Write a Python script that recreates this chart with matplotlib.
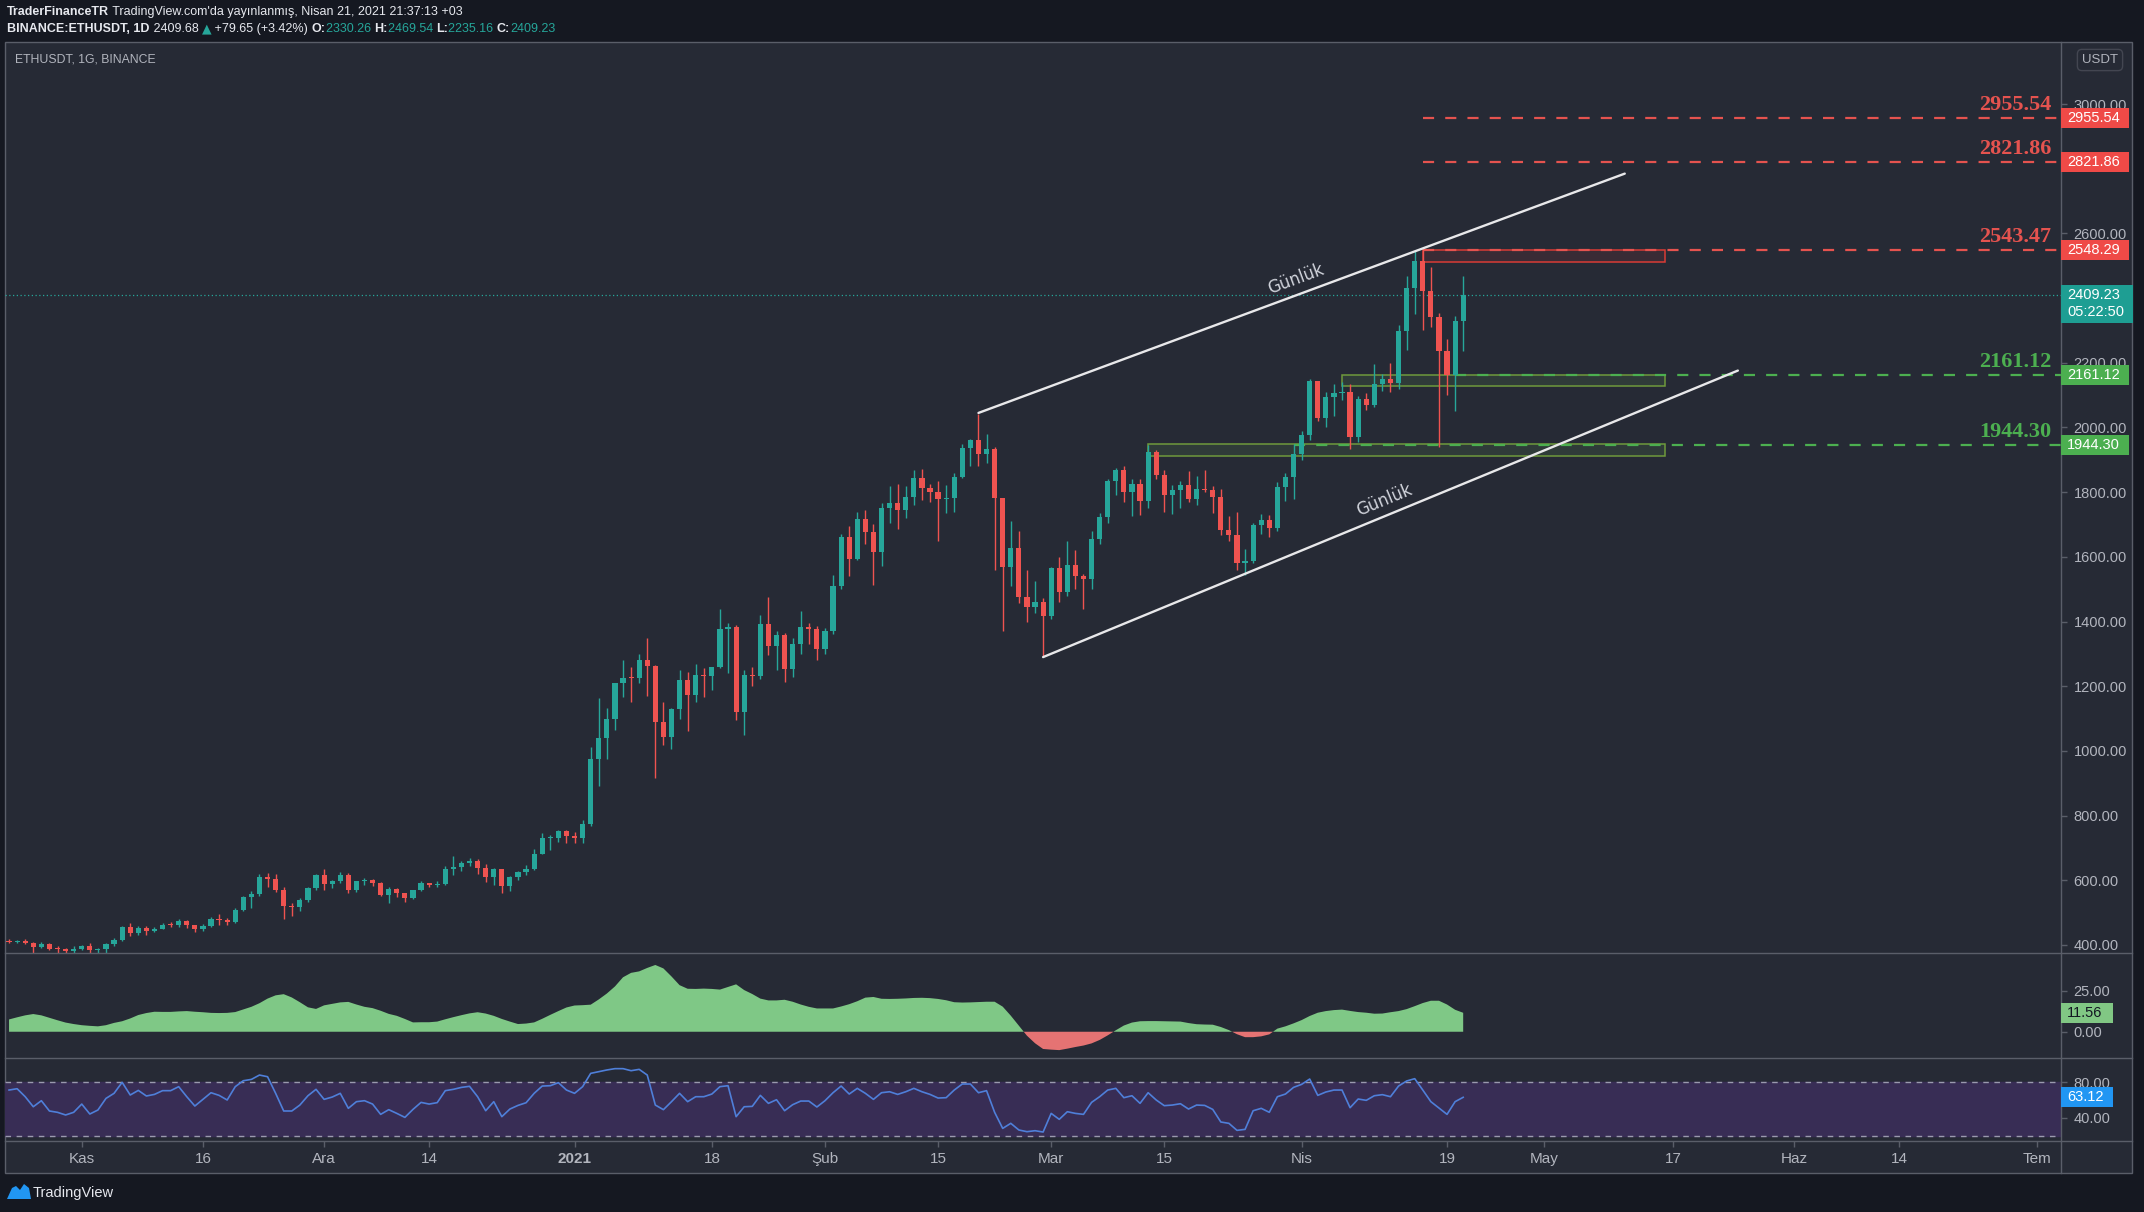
import numpy as np
import pandas as pd
import matplotlib
matplotlib.use("Agg")
import matplotlib.pyplot as plt
import matplotlib.dates as mdates
import matplotlib.transforms as mtransforms
from matplotlib.patches import Rectangle, Polygon
from matplotlib.lines import Line2D
from matplotlib import font_manager as fm

# ------------------------------------------------------------------ data
start_date = "2020-10-23"
end_date = "2021-04-21"

opens = [
    412.9, 409.5, 411.2, 406.4, 393.5, 403.6, 388.2, 386.3, 382.6,
    386.6, 396.6, 383.2, 387.6, 402.1, 414.1, 454.7, 435.4, 453.7, 444.2, 449.7, 462.8, 461.8, 475.4, 461.3,
    447.8, 460.0, 481.1, 478.3, 471.3, 509.1, 549.4, 558.8, 608.6, 603.2, 570.2, 518.8, 517.5, 538.2, 575.8,
    614.8, 587.3, 598.4, 616.7, 569.4, 596.3, 601.0, 591.6, 554.6, 573.6, 559.8, 545.6, 568.7, 590.6, 586.8,
    589.0, 636.2, 642.0, 654.0, 659.0, 638.0, 609.0, 634.5, 583.0, 611.0, 626.0, 635.0, 682.0, 731.0, 732.0, 751.6,
    737.0, 730.0, 774.6, 975.5, 1040.2, 1100.0, 1208.4, 1225.7, 1224.9, 1281.4, 1262.2, 1090.1, 1043.4, 1130.2,
    1218.9, 1171.5, 1233.5, 1230.2, 1257.9, 1377.0, 1382.0, 1121.0, 1236.0, 1231.0, 1392.0, 1324.0, 1357.0,
    1253.0, 1331.0, 1382.0, 1378.0,
    1314.0, 1370.0, 1511.0, 1660.0, 1594.0, 1718.0, 1677.0, 1614.0, 1750.0, 1768.0, 1744.0, 1784.0, 1843.0,
    1814.0, 1800.0, 1779.0, 1781.0, 1848.0, 1937.0, 1960.0, 1919.0, 1935.0, 1781.0, 1570.0, 1626.0, 1475.0,
    1446.0, 1459.0,
    1417.0, 1564.0, 1492.0, 1575.0, 1541.0, 1533.0, 1655.0, 1724.0, 1834.0, 1868.0, 1799.0, 1826.0, 1772.0,
    1924.0, 1854.0, 1791.0, 1806.0, 1823.0, 1780.0, 1810.0, 1807.0, 1786.0, 1682.0, 1669.0, 1581.0, 1587.0,
    1700.0, 1715.0, 1690.0, 1817.0, 1846.0,
    1919.0, 1977.0, 2143.0, 2028.0, 2093.0, 2107.0, 2111.0, 1971.0, 2088.0, 2071.0, 2133.0, 2151.0, 2139.0,
    2299.0, 2432.0, 2514.0, 2423.0, 2342.0, 2237.0, 2162.0, 2330.26,
]
highs = [
    419.4, 414.9, 419.0, 408.5, 409.5, 406.2, 395.8, 389.0, 396.0,
    399.0, 405.0, 391.0, 407.0, 420.0, 459.0, 467.0, 457.0, 460.0, 456.0, 468.0, 472.0, 480.0, 476.0, 463.0,
    464.0, 485.0, 496.0, 483.0, 513.0, 552.0, 568.0, 618.0, 622.0, 618.0, 580.0, 531.0, 545.0, 579.0, 619.0,
    634.0, 600.0, 624.0, 621.0, 599.0, 606.0, 604.0, 595.0, 579.0, 575.0, 560.0, 570.0, 597.0, 592.0, 597.0,
    643.0, 676.0, 659.0, 668.0, 667.0, 649.0, 638.0, 636.0, 614.0, 630.0, 646.0, 697.0, 745.0, 739.0, 754.0, 754.0,
    749.0, 787.0, 1011.0, 1162.0, 1134.0, 1211.0, 1282.0, 1260.0, 1300.0, 1348.0, 1265.0, 1150.0, 1133.0, 1250.0,
    1245.0, 1270.0, 1256.0, 1260.0, 1438.0, 1395.0, 1389.0, 1250.0, 1260.0, 1420.0, 1476.0, 1370.0, 1365.0,
    1350.0, 1432.0, 1394.0, 1386.0,
    1380.0, 1545.0, 1670.0, 1695.0, 1740.0, 1744.0, 1703.0, 1765.0, 1820.0, 1826.0, 1820.0, 1870.0, 1871.0,
    1825.0, 1836.0, 1823.0, 1860.0, 1950.0, 1965.0, 2041.4, 1980.0, 1939.0, 1781.0, 1712.0, 1680.0, 1558.0,
    1525.0, 1472.0,
    1570.0, 1599.0, 1650.0, 1622.0, 1548.0, 1680.0, 1735.0, 1840.0, 1875.0, 1880.0, 1840.0, 1840.0, 1947.0,
    1930.0, 1870.0, 1822.0, 1835.0, 1865.0, 1850.0, 1868.0, 1818.0, 1810.0, 1725.0, 1740.0, 1625.0, 1705.0,
    1734.0, 1728.0, 1830.0, 1860.0, 1950.0,
    1990.0, 2150.0, 2145.0, 2110.0, 2135.0, 2140.0, 2136.0, 2096.0, 2108.0, 2196.0, 2165.0, 2200.0, 2318.0,
    2468.0, 2545.0, 2548.3, 2497.0, 2355.0, 2275.0, 2345.0, 2469.54,
]
lows = [
    404.9, 407.3, 403.0, 376.0, 391.3, 383.0, 373.0, 371.2, 376.4,
    383.8, 374.0, 371.5, 376.0, 398.0, 413.0, 427.0, 430.0, 431.0, 440.0, 448.0, 454.5, 456.0, 451.0, 441.0,
    442.0, 456.0, 462.0, 463.0, 469.0, 505.0, 515.0, 551.0, 579.0, 563.0, 480.0, 490.0, 505.0, 534.0, 571.0,
    570.0, 576.0, 590.0, 560.0, 565.0, 584.0, 582.0, 550.0, 530.0, 549.0, 532.0, 542.0, 566.0, 578.0, 578.0,
    584.0, 616.0, 628.0, 645.0, 620.0, 596.0, 586.0, 560.0, 566.0, 600.0, 615.0, 632.0, 681.0, 694.0, 717.0, 714.0,
    714.0, 714.0, 768.0, 890.0, 974.0, 1065.0, 1167.0, 1150.0, 1211.0, 1170.0, 917.0, 1017.0, 1006.0, 1100.0,
    1060.0, 1150.0, 1167.0, 1188.0, 1255.0, 1240.0, 1095.0, 1050.0, 1200.0, 1221.0, 1298.0, 1250.0, 1213.0,
    1227.0, 1300.0, 1330.0, 1280.0,
    1300.0, 1360.0, 1500.0, 1540.0, 1589.0, 1640.0, 1512.0, 1572.0, 1706.0, 1686.0, 1720.0, 1760.0, 1775.0,
    1770.0, 1650.0, 1735.0, 1740.0, 1844.0, 1880.0, 1880.0, 1890.0, 1560.0, 1371.0, 1511.0, 1456.0, 1400.0,
    1425.0, 1290.0,
    1407.0, 1461.0, 1478.0, 1500.0, 1440.0, 1500.0, 1640.0, 1704.0, 1790.0, 1770.0, 1725.0, 1730.0, 1751.0,
    1842.0, 1740.0, 1733.0, 1750.0, 1770.0, 1760.0, 1800.0, 1735.0, 1668.0, 1650.0, 1560.0, 1545.0, 1580.0,
    1670.0, 1660.0, 1680.0, 1772.0, 1780.0,
    1900.0, 1960.0, 2020.0, 2000.0, 2035.0, 2085.0, 1932.0, 1955.0, 2055.0, 2063.0, 2113.0, 2110.0, 2120.0,
    2240.0, 2350.0, 2300.0, 2310.0, 1940.0, 2100.0, 2050.0, 2235.16,
]
closes = [
    409.5, 411.2, 406.4, 393.5, 403.6, 388.2, 386.3, 382.6, 386.6,
    396.6, 383.2, 387.6, 402.1, 414.1, 454.7, 435.4, 453.7, 444.2, 449.7, 462.8, 461.8, 475.4, 461.3, 447.8,
    460.0, 481.1, 478.3, 471.3, 509.1, 549.4, 558.8, 608.6, 603.2, 570.2, 518.8, 517.5, 538.2, 575.8, 614.8,
    587.3, 598.4, 616.7, 569.4, 596.3, 601.0, 591.6, 554.6, 573.6, 559.8, 545.6, 568.7, 590.6, 586.8, 589.0,
    636.2, 642.0, 654.0, 659.0, 638.0, 609.0, 634.5, 583.0, 611.0, 626.0, 635.0, 682.0, 731.0, 732.0, 751.6, 737.0,
    730.0, 774.6, 975.5, 1040.2, 1100.0, 1208.4, 1225.7, 1224.9, 1281.4, 1262.2, 1090.1, 1043.4, 1130.2, 1218.9,
    1171.5, 1233.5, 1230.2, 1257.9, 1377.0, 1382.0, 1121.0, 1236.0, 1231.0, 1392.0, 1324.0, 1357.0, 1253.0,
    1331.0, 1382.0, 1378.0, 1314.0,
    1370.0, 1511.0, 1660.0, 1594.0, 1718.0, 1677.0, 1614.0, 1750.0, 1768.0, 1744.0, 1784.0, 1843.0, 1814.0,
    1800.0, 1779.0, 1781.0, 1848.0, 1937.0, 1960.0, 1919.0, 1935.0, 1781.0, 1570.0, 1626.0, 1475.0, 1446.0,
    1459.0, 1417.0,
    1564.0, 1492.0, 1575.0, 1541.0, 1533.0, 1655.0, 1724.0, 1834.0, 1868.0, 1799.0, 1826.0, 1772.0, 1924.0,
    1854.0, 1791.0, 1806.0, 1823.0, 1780.0, 1810.0, 1807.0, 1786.0, 1682.0, 1669.0, 1581.0, 1587.0, 1700.0,
    1715.0, 1690.0, 1817.0, 1846.0, 1919.0,
    1977.0, 2143.0, 2028.0, 2093.0, 2107.0, 2111.0, 1971.0, 2088.0, 2071.0, 2133.0, 2151.0, 2139.0, 2299.0,
    2432.0, 2514.0, 2423.0, 2342.0, 2237.0, 2162.0, 2330.0, 2409.23,
]

momentum = [
    7.5, 8.8, 10.0, 10.8, 10.0, 8.5, 7.0, 5.6, 4.7, 4.0,
    3.6, 3.3, 4.0, 5.4, 6.4, 8.1, 10.2, 11.4, 12.2, 12.1,
    12.1, 12.4, 12.6, 12.2, 11.9, 11.5, 11.4, 11.5, 12.0, 13.6,
    15.2, 17.4, 20.2, 22.2, 22.9, 20.9, 18.0, 14.9, 13.9, 16.1,
    17.0, 17.9, 18.2, 16.6, 15.2, 14.4, 12.8, 10.9, 9.7, 7.8,
    5.7, 5.8, 5.8, 6.2, 7.6, 8.9, 10.1, 11.2, 11.9, 11.1,
    9.7, 7.8, 6.2, 4.7, 5.0, 5.7, 7.9, 10.3, 12.6, 14.8,
    16.0, 16.2, 16.5, 19.7, 23.3, 27.6, 33.2, 35.9, 36.8, 38.9,
    40.7, 38.6, 33.7, 28.4, 26.2, 26.1, 26.3, 26.1, 25.7, 27.3,
    28.9, 25.4, 23.0, 20.2, 19.1, 19.1, 19.5, 18.3, 16.6, 15.2,
    14.2, 14.2, 14.2, 15.4, 16.8, 18.6, 20.8, 21.2, 20.1, 20.0,
    20.1, 20.3, 20.6, 20.7, 20.5, 20.0, 19.2, 18.0, 17.8, 17.9,
    18.1, 18.3, 18.3, 15.3, 9.8, 3.7, -2.4, -7.0, -10.5, -10.9,
    -11.2, -10.3, -9.3, -8.4, -7.1, -5.0, -2.2, 0.9, 3.8, 5.6,
    6.4, 6.5, 6.5, 6.4, 6.3, 6.2, 5.3, 4.6, 4.4, 4.3,
    2.9, 1.0, -1.5, -3.3, -3.3, -2.8, -1.6, 1.9, 3.3, 5.1,
    7.1, 9.6, 11.6, 12.6, 13.2, 13.5, 12.7, 12.0, 11.6, 11.0,
    11.1, 11.9, 12.6, 13.8, 15.6, 17.5, 18.9, 18.9, 16.6, 13.4,
    11.56,
]

rsi = [
    71.3, 72.8, 63.8, 52.5, 59.3, 47.7, 46.2, 43.2, 46.2, 55.5,
    44.3, 48.8, 61.9, 67.6, 80.0, 65.7, 70.9, 64.6, 66.4, 70.6,
    70.6, 75.1, 63.8, 53.3, 60.8, 68.3, 65.3, 60.1, 75.1, 81.8,
    83.3, 88.2, 86.3, 67.6, 47.7, 47.7, 54.4, 64.9, 72.1, 60.8,
    63.4, 67.6, 50.7, 58.2, 59.3, 55.5, 43.9, 49.2, 45.0, 40.5,
    49.5, 57.4, 55.5, 57.1, 70.6, 72.1, 74.3, 75.5, 63.8, 48.0,
    58.2, 41.3, 49.9, 54.0, 57.0, 67.6, 75.8, 76.2, 79.6, 71.3,
    67.6, 75.1, 90.1, 92.0, 93.9, 95.4, 95.4, 93.1, 94.6, 88.2,
    54.4, 49.2, 58.2, 67.6, 58.2, 63.8, 63.8, 66.8, 75.1, 76.2,
    41.3, 52.5, 52.9, 65.3, 56.3, 60.4, 48.0, 54.8, 58.9, 58.9,
    52.2, 59.3, 68.3, 75.8, 66.8, 73.2, 67.6, 60.8, 68.3, 69.4,
    66.4, 69.4, 73.2, 69.4, 66.4, 62.3, 62.7, 71.3, 78.1, 78.1,
    68.3, 70.6, 46.2, 28.1, 33.8, 26.3, 24.4, 25.5, 24.0, 45.0,
    38.3, 46.9, 45.0, 43.9, 57.4, 63.8, 71.3, 73.2, 62.7, 64.9,
    56.3, 68.3, 60.1, 53.7, 54.4, 55.9, 49.9, 54.4, 54.0, 49.5,
    35.3, 33.8, 25.9, 27.0, 48.0, 50.7, 46.2, 63.8, 66.8, 74.3,
    77.7, 83.7, 65.3, 69.1, 71.3, 71.3, 51.4, 61.2, 59.7, 64.9,
    66.1, 63.8, 75.8, 81.5, 84.1, 71.3, 58.2, 51.0, 43.9, 58.2,
    63.12,
]

time_tick_dates = ["2020-11-01", "2020-11-16", "2020-12-01", "2020-12-14", "2021-01-01",
                   "2021-01-18", "2021-02-01", "2021-02-15", "2021-03-01", "2021-03-15",
                   "2021-04-01", "2021-04-19", "2021-05-01", "2021-05-17", "2021-06-01",
                   "2021-06-14", "2021-07-01"]
time_tick_labels = ["Kas", "16", "Ara", "14", "2021", "18", "Şub", "15", "Mar", "15",
                    "Nis", "19", "May", "17", "Haz", "14", "Tem"]
price_ticks = [400, 600, 800, 1000, 1200, 1400, 1600, 1800, 2000, 2200, 2400, 2600, 2800, 3000]
price_ticks_hidden = [2400, 2800]   # covered by the value boxes in the original
mom_ticks = [0, 25]
rsi_ticks = [40, 80]
rsi_band = [20, 80]

resistance_levels = [2955.54, 2821.86, 2548.29]
resistance_texts = ["2955.54", "2821.86", "2543.47"]
resistance_start = "2021-04-16"
support_levels = [2161.12, 1944.30]
support_texts = ["2161.12", "1944.30"]
support_starts = ["2021-04-20", "2021-03-31"]

zone_starts = ["2021-04-16", "2021-04-06", "2021-03-13"]
zone_ends = ["2021-05-16", "2021-05-16", "2021-05-16"]
zone_lows = [2511, 2128, 1912]
zone_highs = [2549, 2163, 1949]
zone_kinds = ["red", "green", "green"]

channel_upper_dates = ["2021-02-20", "2021-05-11"]
channel_upper_prices = [2045, 2785]
channel_lower_dates = ["2021-02-28", "2021-05-25"]
channel_lower_prices = [1290, 2176]
channel_label_dates = ["2021-03-31 07:00", "2021-04-11 07:00"]

last_price = 2409.23
countdown = "05:22:50"
last_mom = 11.56
last_rsi = 63.12

# ------------------------------------------------------------------ style
W, H = 2144, 1212
BG = "#262a35"
OUTER = "#151821"
SEP = "#5a5e69"
LABEL = "#b2b5be"
UP = "#26a69a"
DOWN = "#ef5350"
RED_LVL = "#e5534f"
GREEN_LVL = "#4caf50"

available = {f.name for f in fm.fontManager.ttflist}
NARROW = "Liberation Sans Narrow" if "Liberation Sans Narrow" in available else "Liberation Sans"
SANS = [NARROW, "DejaVu Sans"]
plt.rcParams["font.family"] = SANS
TICK_FS = 10.5

fig = plt.figure(figsize=(W / 100, H / 100), dpi=100, facecolor=OUTER)


def frect(x0, y0, x1, y1):
    return [x0 / W, 1 - y1 / H, (x1 - x0) / W, (y1 - y0) / H]


fig.add_artist(Rectangle((5 / W, 1 - 1173 / H), (2132 - 5) / W, (1173 - 42) / H,
                         transform=fig.transFigure, facecolor=BG, edgecolor=SEP,
                         lw=1, zorder=-10))

ax_main = fig.add_axes(frect(5, 42, 2061, 953))
ax_mom = fig.add_axes(frect(5, 953, 2061, 1058))
ax_rsi = fig.add_axes(frect(5, 1058, 2061, 1141))

dates = pd.date_range(start_date, end_date, freq="D")
x = mdates.date2num(dates)
o = np.array(opens); h = np.array(highs); l = np.array(lows); c = np.array(closes)
ref0 = mdates.date2num(pd.Timestamp("2020-11-01"))
xlim = (ref0 - 9.5, ref0 + 245.0)

for ax in (ax_main, ax_mom, ax_rsi):
    ax.set_facecolor("none")
    for s in ax.spines.values():
        s.set_visible(False)
    ax.set_xlim(*xlim)
    ax.yaxis.tick_right()
    ax.tick_params(axis="y", direction="out", length=4, width=1, color=SEP,
                   labelcolor=LABEL, labelsize=TICK_FS, pad=5)
    ax.tick_params(axis="x", bottom=False, labelbottom=False)

# ---------------- main pane
ax_main.set_ylim(375, 3192)
ax_main.set_yticks(price_ticks)
ax_main.set_yticklabels(["" if v in price_ticks_hidden else f"{v:.2f}" for v in price_ticks])

cols = np.where(c >= o, UP, DOWN)
ax_main.vlines(x, l, h, colors=cols, lw=1.0, zorder=3)
body = np.maximum(np.abs(c - o), 3.0)
ax_main.bar(x, body, bottom=np.minimum(o, c), width=0.64, color=cols, linewidth=0, zorder=4)

# current price dotted line
ax_main.axhline(last_price, color=UP, lw=0.9, ls=(0, (1, 2)), zorder=2)

# zones
for s, e, lo, hi, k in zip(zone_starts, zone_ends, zone_lows, zone_highs, zone_kinds):
    xs, xe = mdates.date2num(pd.Timestamp(s)), mdates.date2num(pd.Timestamp(e))
    if k == "red":
        fc, ec = (0.90, 0.22, 0.21, 0.10), "#d93b36"
    else:
        fc, ec = (0.45, 0.70, 0.35, 0.13), "#6e9a3c"
    ax_main.add_patch(Rectangle((xs, lo), xe - xs, hi - lo, facecolor=fc, edgecolor=ec,
                                lw=1.1, zorder=2.5))

# horizontal levels
blend = mtransforms.blended_transform_factory(ax_main.transAxes, ax_main.transData)
rs = mdates.date2num(pd.Timestamp(resistance_start))
for lvl, txt in zip(resistance_levels, resistance_texts):
    ax_main.hlines(lvl, rs, xlim[1], colors=RED_LVL, lw=1.6, linestyles=(0, (5, 5)), zorder=2.6)
    ax_main.annotate(txt, xy=(1, lvl), xycoords=blend, xytext=(-10, 8), textcoords="offset pixels",
                     ha="right", va="baseline", color=RED_LVL, fontsize=16,
                     family="Liberation Serif", fontweight="bold")
for lvl, txt, st in zip(support_levels, support_texts, support_starts):
    xs = mdates.date2num(pd.Timestamp(st))
    ax_main.hlines(lvl, xs, xlim[1], colors=GREEN_LVL, lw=1.6, linestyles=(0, (5, 5)), zorder=2.6)
    ax_main.annotate(txt, xy=(1, lvl), xycoords=blend, xytext=(-10, 8), textcoords="offset pixels",
                     ha="right", va="baseline", color=GREEN_LVL, fontsize=16,
                     family="Liberation Serif", fontweight="bold")

# channel lines
for dts, prs, ld in ((channel_upper_dates, channel_upper_prices, channel_label_dates[0]),
                     (channel_lower_dates, channel_lower_prices, channel_label_dates[1])):
    xd = mdates.date2num(pd.to_datetime(dts))
    ax_main.plot(xd, prs, color="#e8e8ea", lw=1.7, solid_capstyle="round", zorder=5)
    p1 = ax_main.transData.transform((xd[0], prs[0]))
    p2 = ax_main.transData.transform((xd[1], prs[1]))
    ang = np.degrees(np.arctan2(p2[1] - p1[1], p2[0] - p1[0]))
    xl = mdates.date2num(pd.Timestamp(ld))
    yl = prs[0] + (prs[1] - prs[0]) * (xl - xd[0]) / (xd[1] - xd[0])
    ax_main.annotate("Günlük", xy=(xl, yl), xytext=(0, 16), textcoords="offset pixels",
                     rotation=ang, rotation_mode="anchor", ha="center", va="center",
                     color="#d1d4dc", fontsize=12, family="DejaVu Sans", zorder=6)

# ---------------- momentum pane
mom = np.array(momentum)
ax_mom.set_ylim(-16.0, 48.0)
ax_mom.set_yticks(mom_ticks)
ax_mom.set_yticklabels([f"{v:.2f}" for v in mom_ticks])
ax_mom.fill_between(x, mom, 0, where=mom >= 0, interpolate=True, color="#7fc886", lw=0, zorder=3)
ax_mom.fill_between(x, mom, 0, where=mom <= 0, interpolate=True, color="#e57373", lw=0, zorder=3)

# ---------------- RSI pane
ax_rsi.set_ylim(13.9, 107.4)
ax_rsi.set_yticks(rsi_ticks)
ax_rsi.set_yticklabels([f"{v:.2f}" for v in rsi_ticks])
ax_rsi.axhspan(rsi_band[0], rsi_band[1], color="#382d55", zorder=1)
for b in rsi_band:
    ax_rsi.axhline(b, color="#9a9aae", lw=1.0, ls=(0, (4, 4)), zorder=2)
ax_rsi.plot(x, rsi, color="#4f7fd9", lw=1.2, zorder=3)

ax_rsi.set_xticks(mdates.date2num(pd.to_datetime(time_tick_dates)))
ax_rsi.set_xticklabels(time_tick_labels)
ax_rsi.tick_params(axis="x", bottom=True, labelbottom=True, direction="out", length=4,
                   width=1, color=SEP, labelcolor=LABEL, labelsize=11, pad=4)
for t in ax_rsi.get_xticklabels():
    if t.get_text() == "2021":
        t.set_fontweight("bold")

# ---------------- separators
for yy in (953, 1058, 1141):
    fig.add_artist(Line2D([5 / W, 2132 / W], [1 - yy / H] * 2, transform=fig.transFigure,
                          color=SEP, lw=1, zorder=2))
fig.add_artist(Line2D([2061 / W] * 2, [1 - 42 / H, 1 - 1173 / H], transform=fig.transFigure,
                      color=SEP, lw=1, zorder=2))


# ---------------- axis value boxes
def value_box(ax, val, text, bg, fg, width, height=20, second=None):
    yd = ax.transData.transform((xlim[0], val))[1]
    if second is None:
        y0 = yd - height / 2
        hh = height
    else:
        y0 = yd - 28
        hh = 38
    fig.add_artist(Rectangle((2061 / W, y0 / H), width / W, hh / H, transform=fig.transFigure,
                             facecolor=bg, edgecolor=bg, lw=0, zorder=8))
    fig.text(2067 / W, yd / H, text, color=fg, fontsize=TICK_FS, va="center", ha="left", zorder=9)
    if second is not None:
        fig.text(2067 / W, (yd - 17) / H, second, color=fg, fontsize=TICK_FS, va="center",
                 ha="left", zorder=9)


for lvl in resistance_levels:
    value_box(ax_main, lvl, f"{lvl:.2f}", "#ef4a47", "white", 68)
for lvl in support_levels:
    value_box(ax_main, lvl, f"{lvl:.2f}", "#4caf50", "white", 68)
value_box(ax_main, last_price, f"{last_price:.2f}", "#1e9e93", "white", 72, second=countdown)
value_box(ax_mom, last_mom, f"{last_mom:.2f}", "#81c784", "#131722", 52)
value_box(ax_rsi, last_rsi, f"{last_rsi:.2f}", "#2196f3", "white", 52)

# ---------------- labels / header / footer
fig.text(15 / W, 1 - 60 / H, "ETHUSDT, 1G, BINANCE", color=LABEL, fontsize=8.8, va="center")
fig.text(2100 / W, 1 - 60 / H, "USDT", color=LABEL, fontsize=9.5, va="center", ha="center",
         bbox=dict(boxstyle="round,pad=0.35", fc=BG, ec="#434651", lw=1))

renderer = fig.canvas.get_renderer()


def seq_text(x_px, y_px, pieces, size):
    xp = x_px
    for s, col, wt, fam in pieces:
        t = fig.text(xp / W, 1 - y_px / H, s, color=col, fontsize=size, fontweight=wt,
                     family=fam, va="center", ha="left")
        bb = t.get_window_extent(renderer=renderer)
        xp = bb.x1


WHITE = "#e6e8ee"
seq_text(7, 12, [("TraderFinanceTR", WHITE, "bold", SANS),
                 (" TradingView.com'da yayınlanmış, Nisan 21, 2021 21:37:13 +03", WHITE, "normal", SANS)],
         9.0)
seq_text(7, 29, [("BINANCE:ETHUSDT, 1D", WHITE, "bold", SANS),
                 (" 2409.68 ", WHITE, "normal", SANS),
                 ("▲", UP, "normal", ["DejaVu Sans"]),
                 (" +79.65 (+3.42%) ", WHITE, "normal", SANS),
                 ("O:", WHITE, "bold", SANS), ("2330.26 ", UP, "normal", SANS),
                 ("H:", WHITE, "bold", SANS), ("2469.54 ", UP, "normal", SANS),
                 ("L:", WHITE, "bold", SANS), ("2235.16 ", UP, "normal", SANS),
                 ("C:", WHITE, "bold", SANS), ("2409.23", UP, "normal", SANS)],
         9.0)

# TradingView footer logo
logo = [(7, 1199), (12, 1188), (16, 1186), (20, 1190), (24, 1184), (29, 1188), (31, 1199)]
fig.add_artist(Polygon([(px / W, 1 - py / H) for px, py in logo], closed=True,
                       transform=fig.transFigure, facecolor="#2196f3", edgecolor="none"))
fig.text(33 / W, 1 - 1193 / H, "TradingView", color="#e6e8ee", fontsize=10.5, va="center")

fig.savefig("out.png", dpi=100, facecolor=OUTER)
